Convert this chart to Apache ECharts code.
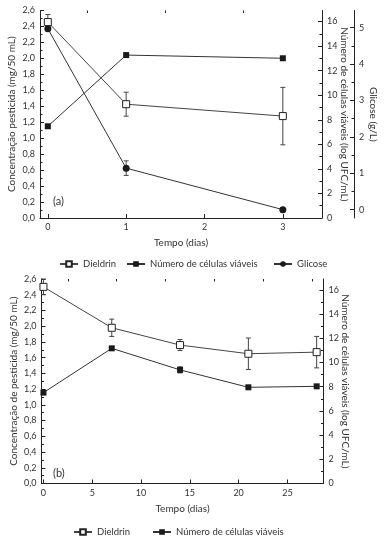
<!DOCTYPE html>
<html><head><meta charset="utf-8">
<script src="https://cdn.jsdelivr.net/npm/echarts@6/dist/echarts.min.js"></script>
<style>html,body{margin:0;padding:0;background:#fff}#c{width:387px;height:546px}</style>
</head><body><div id="c"></div>
<script>
// ---- data (a) ----
const daysA = [0, 1, 3];
const dieldrinA = [2.455, 1.426, 1.277];
const dieldrinErrA = [0.095, 0.15, 0.36];
const cellsA = [7.47, 13.27, 13.01];
const glicoseA = [4.97, 1.14, 0.0];
const glicoseErrA = [0.05, 0.2, 0.0];
// ---- data (b) ----
const daysB = [0, 7, 14, 21, 28];
const dieldrinB = [2.50, 1.98, 1.76, 1.65, 1.67];
const dieldrinErrB = [0.10, 0.11, 0.07, 0.20, 0.20];
const cellsB = [7.51, 11.17, 9.39, 7.95, 8.03];
const cellsErrB = [0, 0, 0.25, 0, 0];
// ---- tick labels ----
const dayTicksA = [0, 1, 2, 3];
const dayMinorA = [0.5, 1.5, 2.5];
const dayTicksB = [0, 5, 10, 15, 20, 25];
const dayMinorB = [2.5, 7.5, 12.5, 17.5, 22.5, 27.5];
const cellTicks = [0, 2, 4, 6, 8, 10, 12, 14, 16];
const cellMinor = [1, 3, 5, 7, 9, 11, 13, 15];
const glicoseTicks = [0, 1, 2, 3, 4, 5];
const glicoseMinor = [0.5, 1.5, 2.5, 3.5, 4.5];

const FONT = 'Lato';
const TXT = '#333';
const AX = '#222';
const lblStyle = {fontFamily: FONT, fontSize: 9, color: TXT};
const nameStyle = {fontFamily: FONT, fontSize: 10, color: TXT};

function errData(xs, ys, es) {
  const out = [];
  xs.forEach((x, i) => { if (es[i] > 0) out.push([x, ys[i] - es[i], ys[i] + es[i]]); });
  return out;
}
function renderErr(params, api) {
  const x = api.value(0), lo = api.value(1), hi = api.value(2);
  const p1 = api.coord([x, lo]), p2 = api.coord([x, hi]);
  const w = 2.5;
  const st = {stroke: '#444', lineWidth: 1};
  return {type: 'group', children: [
    {type: 'line', shape: {x1: p1[0], y1: p1[1], x2: p2[0], y2: p2[1]}, style: st},
    {type: 'line', shape: {x1: p1[0] - w, y1: p1[1], x2: p1[0] + w, y2: p1[1]}, style: st},
    {type: 'line', shape: {x1: p2[0] - w, y1: p2[1], x2: p2[0] + w, y2: p2[1]}, style: st}
  ]};
}
const pestFmt = v => v.toFixed(1).replace('.', ',');

function xMain(grid, min, max, ticks, name) {
  return {type: 'value', gridIndex: grid, min, max, name, nameLocation: 'middle', nameGap: 20,
    nameMoveOverlap: false,
    nameTextStyle: nameStyle, splitLine: {show: false},
    axisLine: {onZero: false, lineStyle: {color: AX, width: 1}},
    axisTick: {inside: true, length: 4, customValues: ticks, lineStyle: {color: AX}},
    axisLabel: {customValues: ticks, margin: 5, ...lblStyle}};
}
function xMinor(grid, min, max, ticks) {
  return {type: 'value', gridIndex: grid, min, max, splitLine: {show: false},
    axisLine: {show: false, onZero: false},
    axisTick: {inside: true, length: 2.5, customValues: ticks, lineStyle: {color: AX}},
    axisLabel: {show: false}};
}
function yPest(grid, name) {
  return {type: 'value', gridIndex: grid, position: 'left', min: 0, max: 2.6, interval: 0.2,
    name, nameLocation: 'middle', nameGap: 23, nameMoveOverlap: false,
    nameTextStyle: nameStyle, splitLine: {show: false},
    axisLine: {show: true, onZero: false, lineStyle: {color: AX}},
    axisTick: {show: true, inside: true, length: 4, lineStyle: {color: AX}},
    minorTick: {show: true, splitNumber: 2, length: 2.5, lineStyle: {color: AX}},
    axisLabel: {formatter: pestFmt, margin: 5, ...lblStyle}};
}
function yRightMain(grid, min, max, ticks, name, offset, gap) {
  return {type: 'value', gridIndex: grid, position: 'right', offset, min, max,
    name, nameLocation: 'middle', nameGap: gap, nameRotate: -90, nameMoveOverlap: false,
    nameTextStyle: nameStyle, splitLine: {show: false},
    axisLine: {show: true, onZero: false, lineStyle: {color: AX}},
    axisTick: {show: true, inside: true, length: 4, customValues: ticks, lineStyle: {color: AX}},
    axisLabel: {customValues: ticks, margin: 5, ...lblStyle}};
}
function yRightMinor(grid, min, max, ticks, offset) {
  return {type: 'value', gridIndex: grid, position: 'right', offset, min, max,
    splitLine: {show: false}, axisLine: {show: false, onZero: false},
    axisTick: {show: true, inside: true, length: 2.5, customValues: ticks, lineStyle: {color: AX}},
    axisLabel: {show: false}};
}

const dieldrinStyle = {type: 'line', name: 'Dieldrin', symbol: 'rect', symbolSize: 7,
  itemStyle: {color: '#fff', borderColor: '#222', borderWidth: 1},
  lineStyle: {color: '#444', width: 1}, z: 5};
const cellsStyle = {type: 'line', name: 'Número de células viáveis', symbol: 'rect', symbolSize: 6,
  itemStyle: {color: '#1a1a1a', borderColor: '#1a1a1a', borderWidth: 0},
  lineStyle: {color: '#333', width: 1}, z: 4};
const glicoseStyle = {type: 'line', name: 'Glicose', symbol: 'circle', symbolSize: 7,
  itemStyle: {color: '#1a1a1a', borderColor: '#1a1a1a', borderWidth: 0},
  lineStyle: {color: '#333', width: 1}, z: 4};

const zip = (xs, ys) => xs.map((x, i) => [x, ys[i]]);
const legendBase = {itemWidth: 18, itemHeight: 7, itemGap: 4, padding: 0,
  textStyle: {fontFamily: FONT, fontSize: 9.5, color: TXT}, selectedMode: false};

const option = {
  animation: false,
  grid: [
    {left: 40, top: 10.5, width: 282, height: 207.5, outerBoundsMode: 'none', containLabel: false},
    {left: 41.5, top: 279, width: 282, height: 204.5, outerBoundsMode: 'none', containLabel: false}
  ],
  title: [
    {text: '(a)', left: 53, top: 196, padding: 0, textStyle: {fontFamily: FONT, fontSize: 11, fontWeight: 'normal', color: TXT}},
    {text: '(b)', left: 53, top: 468, padding: 0, textStyle: {fontFamily: FONT, fontSize: 11, fontWeight: 'normal', color: TXT}}
  ],
  legend: [
    {...legendBase, data: ['Dieldrin'], left: 59, top: 259},
    {...legendBase, data: ['Número de células viáveis'], left: 126, top: 259},
    {...legendBase, data: ['Glicose'], left: 273, top: 259},
    {...legendBase, data: ['Dieldrin'], left: 73, top: 527},
    {...legendBase, data: ['Número de células viáveis'], left: 152, top: 527}
  ],
  xAxis: [
    xMain(0, -0.1, 3.5, dayTicksA, 'Tempo (dias)'),
    xMinor(0, -0.1, 3.5, dayMinorA),
    xMain(1, -0.2, 28.7, dayTicksB, 'Tempo (dias)'),
    xMinor(1, -0.2, 28.7, dayMinorB)
  ],
  yAxis: [
    yPest(0, 'Concentração pesticida (mg/50 mL)'),
    yRightMain(0, 0, 16.9, cellTicks, 'Número de células viáveis (log UFC/mL)', 0, 17),
    yRightMinor(0, 0, 16.9, cellMinor, 0),
    yRightMain(0, -0.23, 5.47, glicoseTicks, 'Glicose (g/L)', 32, 14),
    yRightMinor(0, -0.23, 5.47, glicoseMinor, 32),
    yPest(1, 'Concentração de pesticida (mg/50 mL)'),
    yRightMain(1, 0, 16.9, cellTicks, 'Número de células viáveis (log UFC/mL)', 0, 17),
    yRightMinor(1, 0, 16.9, cellMinor, 0)
  ],
  series: [
    {type: 'custom', xAxisIndex: 0, yAxisIndex: 0, renderItem: renderErr, data: errData(daysA, dieldrinA, dieldrinErrA), z: 2},
    {type: 'custom', xAxisIndex: 0, yAxisIndex: 3, renderItem: renderErr, data: errData(daysA, glicoseA, glicoseErrA), z: 2},
    {...dieldrinStyle, xAxisIndex: 0, yAxisIndex: 0, data: zip(daysA, dieldrinA)},
    {...cellsStyle, xAxisIndex: 0, yAxisIndex: 1, data: zip(daysA, cellsA)},
    {...glicoseStyle, xAxisIndex: 0, yAxisIndex: 3, data: zip(daysA, glicoseA)},
    {type: 'custom', xAxisIndex: 2, yAxisIndex: 5, renderItem: renderErr, data: errData(daysB, dieldrinB, dieldrinErrB), z: 2},
    {type: 'custom', xAxisIndex: 2, yAxisIndex: 6, renderItem: renderErr, data: errData(daysB, cellsB, cellsErrB), z: 2},
    {...dieldrinStyle, xAxisIndex: 2, yAxisIndex: 5, data: zip(daysB, dieldrinB)},
    {...cellsStyle, xAxisIndex: 2, yAxisIndex: 6, data: zip(daysB, cellsB)}
  ]
};
const chart = echarts.init(document.getElementById('c'), null, {renderer: 'canvas'});
chart.setOption(option);
</script></body></html>
